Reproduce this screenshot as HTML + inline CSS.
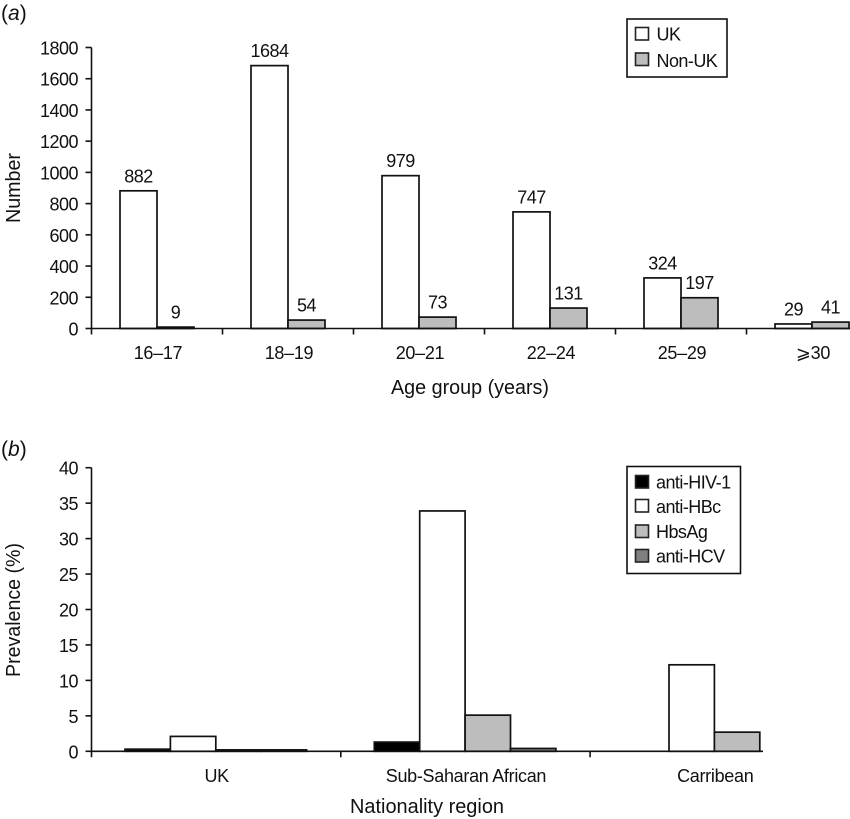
<!DOCTYPE html>
<html>
<head>
<meta charset="utf-8">
<style>
html,body{margin:0;padding:0;background:#fff;}
svg{display:block;}
text{font-family:"Liberation Sans",Arial,sans-serif;fill:#111;}
.legend-text{font-size:18px;letter-spacing:-0.55px;}
</style>
</head>
<body>
<svg id="fig" xmlns="http://www.w3.org/2000/svg" width="850" height="819" viewBox="0 0 850 819">
  <text x="1" y="20" font-size="21">(<tspan font-style="italic">a</tspan>)</text>
  <text x="1" y="456" font-size="21">(<tspan font-style="italic">b</tspan>)</text>
  <text transform="translate(20,188) rotate(-90)" text-anchor="middle" font-size="20.5" textLength="70" lengthAdjust="spacingAndGlyphs">Number</text>
  <text x="470" y="394" text-anchor="middle" font-size="20.5" textLength="158" lengthAdjust="spacingAndGlyphs">Age group (years)</text>
  <text transform="translate(20,610) rotate(-90)" text-anchor="middle" font-size="20.5" textLength="134" lengthAdjust="spacingAndGlyphs">Prevalence (%)</text>
  <text x="427" y="813" text-anchor="middle" font-size="20.5" textLength="154" lengthAdjust="spacingAndGlyphs">Nationality region</text>
  <g id="panel-a"></g>
  <g id="panel-b"></g>
  <g>
    <rect x="627" y="19" width="100" height="58" fill="#fff" stroke="#111" stroke-width="1.6"/>
    <rect x="635.5" y="27.5" width="13" height="12.5" fill="#fff" stroke="#222" stroke-width="1.6"/>
    <text class="legend-text" x="656.5" y="40.5">UK</text>
    <rect x="635.5" y="53" width="13" height="12.5" fill="#bdbdbd" stroke="#222" stroke-width="1.6"/>
    <text class="legend-text" x="656.5" y="67">Non-UK</text>
  </g>
  <g>
    <rect x="627" y="466.5" width="113.5" height="107" fill="#fff" stroke="#111" stroke-width="1.6"/>
    <rect x="635.5" y="475.5" width="13" height="12.5" fill="#000" stroke="#222" stroke-width="1.6"/>
    <text class="legend-text" x="656" y="488.5">anti-HIV-1</text>
    <rect x="635.5" y="499.5" width="13" height="12.5" fill="#fff" stroke="#222" stroke-width="1.6"/>
    <text class="legend-text" x="656" y="513">anti-HBc</text>
    <rect x="635.5" y="525" width="13" height="12.5" fill="#bdbdbd" stroke="#222" stroke-width="1.6"/>
    <text class="legend-text" x="656" y="538">HbsAg</text>
    <rect x="635.5" y="549.5" width="13" height="12.5" fill="#808080" stroke="#222" stroke-width="1.6"/>
    <text class="legend-text" x="656" y="562.5">anti-HCV</text>
  </g>
</svg>
<script>
const ageGroups = ['16–17', '18–19', '20–21', '22–24', '25–29', '⩾30'];
const ukCounts = [882, 1684, 979, 747, 324, 29];
const nonUkCounts = [9, 54, 73, 131, 197, 41];
const ageTicks = [0, 200, 400, 600, 800, 1000, 1200, 1400, 1600, 1800];

const regions = ['UK', 'Sub-Saharan African', 'Carribean'];
const antiHiv = [0.3, 1.3, 0];
const antiHbc = [2.1, 33.9, 12.2];
const hbsAg = [0.2, 5.1, 2.7];
const antiHcv = [0.2, 0.4, 0];
const prevalenceTicks = [0, 5, 10, 15, 20, 25, 30, 35, 40];

const NS = 'http://www.w3.org/2000/svg';
const INK = '#111';

function make(parent, tag, attrs, content) {
  const el = document.createElementNS(NS, tag);
  for (const k in attrs) el.setAttribute(k, attrs[k]);
  if (content !== undefined) el.textContent = content;
  parent.appendChild(el);
  return el;
}

function drawAxes(g, cfg) {
  const yAxis = make(g, 'line', {x1: cfg.x0, x2: cfg.x0, y1: cfg.y(cfg.ticks[cfg.ticks.length - 1]), y2: cfg.y(0) + 6, stroke: INK, 'stroke-width': 1.6});
  
  
  const xAxis = make(g, 'line', {x1: cfg.x0, x2: cfg.axisEnd, y1: cfg.y(0), y2: cfg.y(0), stroke: INK, 'stroke-width': 1.6});
  
  
  cfg.ticks.forEach(function (t) {
    const mark = make(g, 'line', {x1: cfg.x0 - 6, x2: cfg.x0, y1: cfg.y(t), y2: cfg.y(t), stroke: INK, 'stroke-width': 1.6});
    
    
    const label = make(g, 'text', {x: cfg.x0 - 13.5, y: cfg.y(t) + 7, 'text-anchor': 'end', 'font-size': 18, 'letter-spacing': -0.5}, String(t));
    
    
  });
  cfg.categories.forEach(function (c, i) {
    if (i > 0) {
      const mark = make(g, 'line', {x1: cfg.groupX(i), x2: cfg.groupX(i), y1: cfg.y(0), y2: cfg.y(0) + 6, stroke: INK, 'stroke-width': 1.6});
      
      
    }
    const label = make(g, 'text', {x: cfg.groupX(i) + cfg.groupW / 2 + cfg.labelDx, y: cfg.labelY, 'text-anchor': 'middle', 'font-size': 18, 'letter-spacing': -0.3}, c);
    
    
  });
}

function drawBar(g, x, w, base, top, fill) {
  const bar = make(g, 'rect', {x: x, y: top, width: w, height: Math.max(base - top, 0), fill: fill, stroke: INK, 'stroke-width': 1.7});
  
  
}

/* Panel a */
const gA = document.getElementById('panel-a');
const yA = function (v) { return 328.5 - v * (281 / 1800); };
const groupWA = 131;
const xA = function (i) { return 91.5 + i * groupWA; };
const barWA = 37;
const padA = 28.5;
[[ukCounts, '#fff'], [nonUkCounts, '#bdbdbd']].forEach(function (s, si) {
  s[0].forEach(function (v, i) {
    const x = xA(i) + padA + si * barWA;
    drawBar(gA, x, barWA, yA(0), yA(v), s[1]);
    const label = make(gA, 'text', {x: x + barWA / 2, y: yA(v) - 8.5, 'text-anchor': 'middle', 'font-size': 18, 'letter-spacing': -0.5}, String(v));
    
    
  });
});
drawAxes(gA, {x0: 91.5, axisEnd: 850, y: yA, ticks: ageTicks, categories: ageGroups, groupX: xA, groupW: groupWA, labelDx: 1, labelY: 359});

/* Panel b */
const gB = document.getElementById('panel-b');
const yB = function (v) { return 751.3 - v * (283.6 / 40); };
const groupWB = 249.3;
const xB = function (i) { return 91.5 + i * groupWB; };
const barWB = 45.4;
const padB = 33.5;
[[antiHiv, '#000'], [antiHbc, '#fff'], [hbsAg, '#bdbdbd'], [antiHcv, '#808080']].forEach(function (s, si) {
  s[0].forEach(function (v, i) {
    if (v <= 0) return;
    drawBar(gB, xB(i) + padB + si * barWB, barWB, yB(0), yB(v), s[1]);
  });
});
drawAxes(gB, {x0: 91.5, axisEnd: 763, y: yB, ticks: prevalenceTicks, categories: regions, groupX: xB, groupW: groupWB, labelDx: 0.5, labelY: 782});
</script>
</body>
</html>
